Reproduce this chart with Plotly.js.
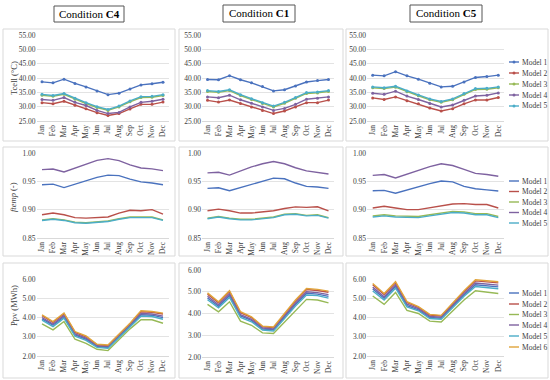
<!DOCTYPE html>
<html><head><meta charset="utf-8">
<script src="https://cdn.plot.ly/plotly-3.0.1.min.js"></script>
<style>html,body{margin:0;padding:0;background:#fff}#chart{width:550px;height:380px}</style>
</head><body><div id="chart"></div>
<script>
const months = ["Jan","Feb","Mar","Apr","May","Jun","Jul","Aug","Sep","Oct","Nov","Dec"];
const conditions = ["C4","C1","C5"];
const modelNames = ["Model 1","Model 2","Model 3","Model 4","Model 5","Model 6"];
const modelColors = ["#4A72BE","#B9504A","#97B956","#7E62A0","#4BADC8","#E0A43A"];

// Tcell (°C) — series order Model 1..5
const tcellC4 = [
  [38.65,38.3,39.6,38.1,36.9,35.5,34.2,34.7,36.2,37.6,38.0,38.5],
  [31.4,31.0,31.9,30.5,29.3,27.9,26.9,27.6,29.2,30.8,30.8,31.6],
  [34.0,33.6,34.3,32.6,31.1,29.7,28.7,29.9,31.7,33.2,33.3,33.9],
  [32.5,32.2,33.2,31.5,30.4,28.7,27.6,28.0,29.9,31.5,31.9,32.6],
  [34.3,33.9,34.6,32.9,31.4,30.0,29.0,30.2,32.0,33.5,33.6,34.2]
];
const tcellC1 = [
  [39.5,39.4,40.8,39.4,38.3,37.0,35.5,35.9,37.2,38.6,39.1,39.5],
  [32.2,31.6,32.3,31.1,29.9,28.7,27.6,28.5,29.9,31.4,31.4,32.3],
  [35.3,35.0,35.6,33.9,32.5,31.1,29.9,31.2,32.9,34.6,34.8,35.3],
  [33.4,33.1,34.0,32.4,31.2,29.9,28.7,29.4,30.8,32.6,32.9,33.4],
  [35.6,35.3,35.9,34.2,32.8,31.4,30.2,31.5,33.2,34.9,35.1,35.6]
];
const tcellC5 = [
  [41.0,40.75,42.2,40.75,39.6,38.2,36.9,37.1,38.6,40.2,40.5,41.0],
  [33.05,32.5,33.4,32.1,31.0,29.55,28.5,29.3,31.0,32.35,32.35,33.2],
  [36.6,36.3,36.8,35.2,33.8,32.4,31.5,32.4,34.3,36.0,36.1,36.6],
  [34.7,34.3,35.4,33.7,32.5,31.1,29.9,30.6,32.2,33.7,34.0,34.8],
  [36.9,36.6,37.1,35.5,34.1,32.7,31.8,32.7,34.6,36.3,36.4,36.9]
];

// ftemp (-) — Model 1..5
const ftempC4 = [
  [0.944,0.945,0.939,0.945,0.951,0.957,0.961,0.960,0.954,0.949,0.947,0.944],
  [0.891,0.894,0.891,0.886,0.885,0.886,0.887,0.894,0.899,0.898,0.900,0.892],
  [0.882,0.884,0.882,0.878,0.877,0.879,0.880,0.884,0.887,0.887,0.887,0.882],
  [0.9706,0.9718,0.9665,0.9735,0.9806,0.987,0.990,0.9865,0.979,0.9735,0.972,0.969],
  [0.881,0.883,0.881,0.877,0.876,0.878,0.879,0.883,0.886,0.886,0.886,0.881]
];
const ftempC1 = [
  [0.9375,0.9387,0.9335,0.939,0.945,0.951,0.9556,0.9545,0.947,0.941,0.940,0.9375],
  [0.898,0.901,0.898,0.894,0.894,0.896,0.898,0.902,0.905,0.904,0.905,0.898],
  [0.885,0.888,0.885,0.883,0.883,0.885,0.887,0.892,0.893,0.890,0.891,0.886],
  [0.965,0.966,0.961,0.9685,0.9755,0.981,0.985,0.981,0.974,0.9685,0.966,0.963],
  [0.884,0.887,0.884,0.882,0.882,0.884,0.886,0.891,0.892,0.889,0.890,0.885]
];
const ftempC5 = [
  [0.9335,0.934,0.929,0.935,0.940,0.946,0.9506,0.949,0.941,0.937,0.935,0.933],
  [0.903,0.906,0.903,0.900,0.900,0.903,0.906,0.910,0.9106,0.909,0.909,0.903],
  [0.889,0.891,0.889,0.888,0.888,0.891,0.894,0.897,0.896,0.893,0.893,0.888],
  [0.9606,0.962,0.956,0.963,0.969,0.976,0.981,0.978,0.971,0.964,0.962,0.959],
  [0.887,0.889,0.887,0.886,0.886,0.889,0.892,0.895,0.894,0.891,0.891,0.886]
];

// Ppv (MWh) — Model 1..6
const ppvC4 = [
  [3.93,3.60,4.03,3.09,2.87,2.49,2.44,2.99,3.57,4.14,4.12,3.99],
  [4.09,3.75,4.19,3.23,3.00,2.58,2.54,3.10,3.67,4.30,4.27,4.18],
  [3.67,3.36,3.79,2.87,2.66,2.35,2.28,2.83,3.41,3.88,3.88,3.70],
  [4.00,3.66,4.10,3.15,2.93,2.53,2.48,3.04,3.61,4.21,4.18,4.07],
  [3.86,3.53,3.97,3.03,2.81,2.45,2.40,2.95,3.53,4.07,4.05,3.91],
  [4.14,3.79,4.23,3.27,3.04,2.61,2.57,3.13,3.70,4.35,4.31,4.23]
];
const ppvC1 = [
  [4.71,4.33,4.82,3.89,3.68,3.28,3.25,3.83,4.41,4.93,4.89,4.79],
  [4.89,4.49,5.00,4.04,3.81,3.39,3.35,3.96,4.57,5.10,5.06,4.98],
  [4.42,4.08,4.54,3.65,3.46,3.11,3.08,3.62,4.15,4.65,4.62,4.49],
  [4.79,4.40,4.90,3.95,3.73,3.33,3.29,3.89,4.48,5.00,4.96,4.87],
  [4.63,4.26,4.74,3.82,3.62,3.24,3.20,3.77,4.34,4.85,4.82,4.71],
  [4.95,4.54,5.05,4.08,3.85,3.42,3.38,4.00,4.62,5.15,5.11,5.03]
];
const ppvC5 = [
  [5.48,5.00,5.61,4.62,4.40,4.00,3.96,4.57,5.17,5.70,5.65,5.59],
  [5.70,5.19,5.80,4.78,4.53,4.13,4.08,4.73,5.34,5.90,5.85,5.80],
  [5.12,4.68,5.30,4.37,4.21,3.81,3.77,4.33,4.91,5.39,5.33,5.25],
  [5.58,5.08,5.69,4.69,4.46,4.06,4.01,4.64,5.25,5.79,5.74,5.68],
  [5.38,4.91,5.52,4.55,4.35,3.95,3.91,4.51,5.10,5.61,5.56,5.49],
  [5.77,5.25,5.86,4.82,4.56,4.16,4.11,4.77,5.39,5.96,5.91,5.86]
];

const panels = [
  [tcellC4, tcellC1, tcellC5],
  [ftempC4, ftempC1, ftempC5],
  [ppvC4, ppvC1, ppvC5]
];
const yTitles = ["Tcell (°C)", "<i>ftemp</i> (-)", "Ppv (MWh)"];

// ---------- layout geometry (pixels) ----------
const W = 550, H = 380;
const fx = p => p / W, fy = p => 1 - p / H;
const colX = [[36.5,168.5],[202,334],[367,504]];
const rowY = [ [[35,121],[35,121],[35,121]],
               [[153,238],[153,238],[153,238]],
               [[279,356],[270,357],[279,356]] ];
const yRanges = [[25,55],[0.85,1.0],[2,6]];
const yDticks = [5,0.05,1];

const FONT = "Liberation Serif, Times New Roman, serif";
const traces = [];
const layout = {
  width: W, height: H, margin:{l:0,r:0,t:0,b:0},
  paper_bgcolor:"#fff", plot_bgcolor:"#fff", showlegend:false,
  font:{family:FONT, size:7, color:"#404040"},
  shapes:[], annotations:[]
};

let n = 0;
for (let r = 0; r < 3; r++) {
  for (let c = 0; c < 3; c++) {
    n++;
    const xa = n === 1 ? "x" : "x" + n, ya = n === 1 ? "y" : "y" + n;
    const xk = n === 1 ? "xaxis" : "xaxis" + n, yk = n === 1 ? "yaxis" : "yaxis" + n;
    layout[xk] = {
      domain:[fx(colX[c][0]), fx(colX[c][1])], anchor: ya,
      type:"category", range:[-0.5, 11.5], tickangle:-90,
      showgrid:false, showline:true, linecolor:"#D9D9D9", linewidth:1,
      ticks:"", tickfont:{family:FONT, size:7.5, color:"#404040"}, fixedrange:true
    };
    layout[yk] = {
      domain:[fy(rowY[r][c][1]), fy(rowY[r][c][0])], anchor: xa,
      range: yRanges[r], dtick: yDticks[r], tick0: yRanges[r][0], tickformat:".2f",
      showgrid:true, gridcolor:"#E3E3E3", gridwidth:1, zeroline:false, showline:false,
      ticks:"", tickfont:{family:FONT, size:7.5, color:"#404040"}, fixedrange:true
    };
    const series = panels[r][c];
    series.forEach((vals, m) => {
      traces.push({
        type:"scatter", x: months, y: vals, xaxis: xa, yaxis: ya,
        mode: r === 0 ? "lines+markers" : "lines",
        name: modelNames[m],
        line:{color: modelColors[m], width:1.4},
        marker:{color: modelColors[m], size:3},
        hoverinfo:"skip"
      });
    });
  }
}

// panel frames
const panelBoxes = [
  [3,29,175,141],[179,29,343,141],[346,29,548,141],
  [3,147,175,256],[179,147,343,256],[346,147,548,256],
  [3,263,175,378],[179,263,343,378],[346,263,548,378]
];
panelBoxes.forEach(b => layout.shapes.push({
  type:"rect", xref:"paper", yref:"paper",
  x0:fx(b[0]), x1:fx(b[2]), y0:fy(b[3]), y1:fy(b[1]),
  line:{color:"#D9D9D9", width:1}, fillcolor:"rgba(0,0,0,0)", layer:"below"
}));

// condition title boxes
const titleBoxes = [[54,6,124,22],[223,5,295,22],[410,5,482,22]];
titleBoxes.forEach((b, i) => {
  layout.shapes.push({type:"rect", xref:"paper", yref:"paper",
    x0:fx(b[0]), x1:fx(b[2]), y0:fy(b[3]), y1:fy(b[1]),
    line:{color:"#555", width:1}, fillcolor:"#fff"});
  layout.annotations.push({xref:"paper", yref:"paper",
    x:fx((b[0]+b[2])/2), y:fy((b[1]+b[3])/2), xanchor:"center", yanchor:"middle",
    showarrow:false, text:"Condition <b>" + conditions[i] + "</b>",
    font:{family:FONT, size:11, color:"#000"}});
});

// y-axis titles (left column only)
const yTitlePos = [[14,78],[13,197],[14,306]];
yTitles.forEach((t, i) => layout.annotations.push({
  xref:"paper", yref:"paper", x:fx(yTitlePos[i][0]), y:fy(yTitlePos[i][1]),
  xanchor:"center", yanchor:"middle", textangle:-90, showarrow:false, text:t,
  font:{family:FONT, size:8.5, color:"#404040"}
}));

// legends (right column)
const legendRows = [
  {ys:[62,73,84,95,106], count:5, markers:true},
  {ys:[181,191.5,202,212.5,223], count:5, markers:false},
  {ys:[293,304,314.5,325,336,347], count:6, markers:false}
];
legendRows.forEach(L => {
  for (let m = 0; m < L.count; m++) {
    const yy = fy(L.ys[m]);
    layout.shapes.push({type:"line", xref:"paper", yref:"paper",
      x0:fx(509), x1:fx(519), y0:yy, y1:yy, line:{color:modelColors[m], width:1.4}});
    if (L.markers) {
      layout.shapes.push({type:"circle", xref:"paper", yref:"paper",
        x0:fx(512.5), x1:fx(515.5), y0:fy(L.ys[m]+1.5), y1:fy(L.ys[m]-1.5),
        line:{color:modelColors[m], width:0}, fillcolor:modelColors[m]});
    }
    layout.annotations.push({xref:"paper", yref:"paper", x:fx(520), y:yy,
      xanchor:"left", yanchor:"middle", showarrow:false, text:modelNames[m],
      font:{family:FONT, size:7.5, color:"#404040"}});
  }
});

Plotly.newPlot("chart", traces, layout, {displayModeBar:false, staticPlot:true});
</script>
</body></html>
